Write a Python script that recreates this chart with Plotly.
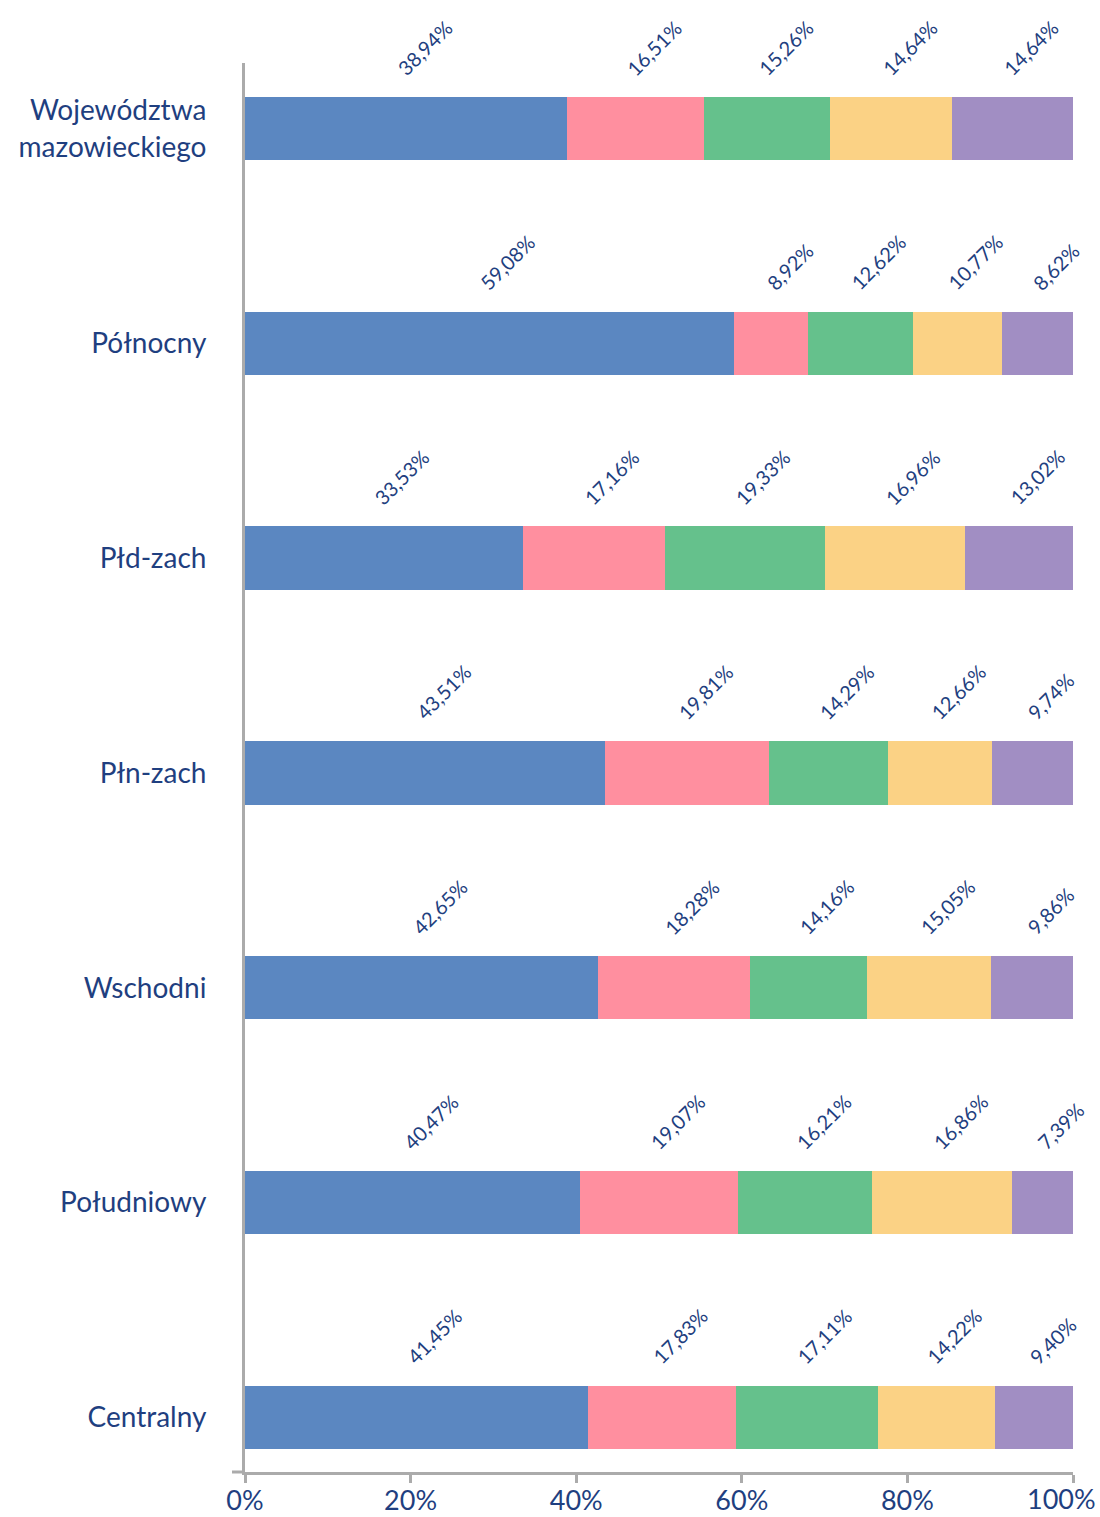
import plotly.graph_objects as go

# Regions (top to bottom) and the share of each of the five groups, in percent
regions = [
    "Województwa<br>mazowieckiego",
    "Północny",
    "Płd-zach",
    "Płn-zach",
    "Wschodni",
    "Południowy",
    "Centralny",
]
group_1 = [38.94, 59.08, 33.53, 43.51, 42.65, 40.47, 41.45]
group_2 = [16.51, 8.92, 17.16, 19.81, 18.28, 19.07, 17.83]
group_3 = [15.26, 12.62, 19.33, 14.29, 14.16, 16.21, 17.11]
group_4 = [14.64, 10.77, 16.96, 12.66, 15.05, 16.86, 14.22]
group_5 = [14.64, 8.62, 13.02, 9.74, 9.86, 7.39, 9.40]

group_names = ["Grupa 1", "Grupa 2", "Grupa 3", "Grupa 4", "Grupa 5"]
tick_vals = [0, 20, 40, 60, 80, 100]

series = [group_1, group_2, group_3, group_4, group_5]
colors = ["#5b87c1", "#ff8f9f", "#65c18c", "#fbd285", "#a18ec3"]

TEXT = "#1f3f80"
AXIS = "#ababab"
FONT = "Lato"


def pl_pct(v):
    return f"{v:.2f}".replace(".", ",") + "%"


fig = go.Figure()
for name, vals, col in zip(group_names, series, colors):
    fig.add_trace(go.Bar(
        y=regions, x=vals, name=name, orientation="h",
        marker=dict(color=col, line=dict(width=0)),
        hovertemplate="%{y}: %{x:.2f}%<extra>" + name + "</extra>",
    ))

# rotated value labels above the middle of each segment
annotations = []
for r_idx, region in enumerate(regions):
    start = 0.0
    for vals in series:
        v = vals[r_idx]
        annotations.append(dict(
            x=start + v / 2, y=region, xref="x", yref="y",
            text=pl_pct(v), showarrow=False, textangle=-45,
            xanchor="center", yanchor="bottom",
            xshift=18, yshift=46,
            font=dict(family=FONT, size=20, color=TEXT),
        ))
        start += v

# the last x tick label is right-aligned so it stays inside the page
tick_text = [f"{t}%" for t in tick_vals]
last_tick = tick_text[-1]
tick_text[-1] = ""
annotations.append(dict(
    x=tick_vals[-1], y=0, xref="x", yref="paper",
    text=last_tick, showarrow=False,
    xanchor="right", yanchor="middle", xshift=25, yshift=-26,
    font=dict(family=FONT, size=27, color=TEXT),
))

fig.update_layout(
    width=1100, height=1517,
    margin=dict(l=245, r=27, t=63, b=45, autoexpand=False),
    paper_bgcolor="white", plot_bgcolor="white",
    barmode="stack", bargap=0.705, showlegend=False,
    font=dict(family=FONT, color=TEXT),
    annotations=annotations,
    xaxis=dict(
        range=[0, 100], tickvals=tick_vals, ticktext=tick_text,
        showgrid=False, zeroline=False, automargin=False,
        showline=True, linecolor=AXIS, linewidth=3,
        ticks="outside", ticklen=8, tickwidth=3, tickcolor=AXIS,
        ticklabelstandoff=-5,
        tickfont=dict(family=FONT, size=27, color=TEXT),
    ),
    yaxis=dict(
        type="category", categoryorder="array", categoryarray=regions,
        range=[6.254, -0.305], automargin=False,
        showgrid=False, zeroline=False,
        showline=True, linecolor=AXIS, linewidth=3,
        ticks="", ticklabelstandoff=30,
        tickfont=dict(family=FONT, size=28, color=TEXT),
    ),
    shapes=[dict(
        type="line", xref="paper", yref="paper",
        x0=-0.0157, x1=0, y0=0, y1=0,
        line=dict(color=AXIS, width=3),
    )],
)

fig.write_html("out.html")
